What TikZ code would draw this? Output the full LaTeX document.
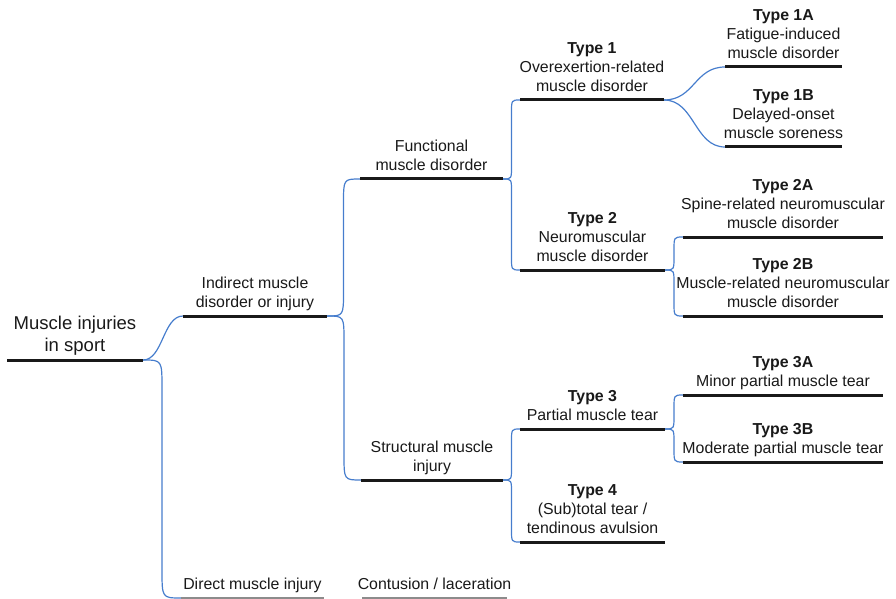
\documentclass[tikz,border=0pt]{standalone}
\usepackage{fontspec}
\setmainfont{Liberation Sans}
\usetikzlibrary{calc}
\definecolor{linkblue}{RGB}{70,125,205}
\begin{document}
\begin{tikzpicture}[x=0.75pt,y=-0.75pt,
  ul/.style={inner sep=0pt, outer sep=0pt, minimum height=0pt, minimum width={#1*0.75pt}},
  txt/.style={anchor=south, inner sep=0pt, align=center, text=black!90,
    font=\fontsize{11.9pt}{14.25pt}\selectfont, execute at end node=\strut},
  big/.style={font=\fontsize{13.9pt}{16.5pt}\selectfont},
  uline/.style={line width=2.25pt, draw=black!90},
  faint/.style={line width=1.1pt, draw=black!45},
  link/.style={draw=linkblue, line width=0.9pt},
  scurve/.style={to path={let \p1=(\tikztostart), \p2=(\tikztotarget), \n1={0.5*(\x2-\x1)} in
     .. controls (\x1+\n1,\y1) and (\x1+\n1,\y2) .. (\tikztotarget)}},
  elbow/.style={to path={let \p1=(\tikztostart), \p2=(\tikztotarget),
     \n1={0.5*(\x2-\x1)},
     \n2={min(1.5*\n1, abs(\y2-\y1)/2)*(\y2-\y1)/abs(\y2-\y1)} in
     .. controls (\x1+\n1,\y1) .. (\x1+\n1,\y1+\n2) -- (\x1+\n1,\y2-\n2)
     .. controls (\x1+\n1,\y2) .. (\tikztotarget)}}
]
\useasboundingbox (0,0) rectangle (896,599);

% underline nodes
\node[ul=136] (root)   at (75,360) {};
\node[ul=144] (ind)    at (255,316) {};
\node[ul=143] (direct) at (252.5,598) {};
\node[ul=145] (cont)   at (434.5,598) {};
\node[ul=143] (func)   at (431.5,179) {};
\node[ul=142] (struct) at (432,480) {};
\node[ul=144] (t1)     at (592,100) {};
\node[ul=145] (t2)     at (592.5,270) {};
\node[ul=145] (t3)     at (592.5,429) {};
\node[ul=145] (t4)     at (592.5,542) {};
\node[ul=117] (t1a)    at (783.5,67) {};
\node[ul=117] (t1b)    at (783.5,147) {};
\node[ul=200] (t2a)    at (783,237) {};
\node[ul=200] (t2b)    at (783,316) {};
\node[ul=200] (t3a)    at (783,395) {};
\node[ul=200] (t3b)    at (783,462) {};

% connectors
\draw[link] (root.east) to[scurve] (ind.west);
\draw[link] (root.east) to[elbow] (direct.west);
\draw[link] (ind.east) to[elbow] (func.west);
\draw[link] (ind.east) to[elbow] (struct.west);
\draw[link] (func.east) to[elbow] (t1.west);
\draw[link] (func.east) to[elbow] (t2.west);
\draw[link] (struct.east) to[elbow] (t3.west);
\draw[link] (struct.east) to[elbow] (t4.west);
\draw[link] (t1.east) to[scurve] (t1a.west);
\draw[link] (t1.east) to[scurve] (t1b.west);
\draw[link] (t2.east) to[elbow] (t2a.west);
\draw[link] (t2.east) to[elbow] (t2b.west);
\draw[link] (t3.east) to[elbow] (t3a.west);
\draw[link] (t3.east) to[elbow] (t3b.west);

% underlines
\foreach \n in {root,ind,func,struct,t1,t2,t3,t4,t1a,t1b,t2a,t2b,t3a,t3b}
  \draw[uline] (\n.west) -- (\n.east);
\draw[faint] (direct.west) -- (direct.east);
\draw[faint] (cont.west) -- (cont.east);

% texts
\node[txt,big] (root-t) at ([yshift=1.05pt]root.north) {Muscle injuries\\in sport};
\node[txt] (ind-t) at ([yshift=1.7pt]ind.north) {Indirect muscle\\disorder or injury};
\node[txt] (direct-t) at ([yshift=1.7pt]direct.north) {Direct muscle injury};
\node[txt] (cont-t) at ([yshift=1.7pt]cont.north) {Contusion / laceration};
\node[txt] (func-t) at ([yshift=1.7pt]func.north) {Functional\\muscle disorder};
\node[txt] (struct-t) at ([yshift=1.7pt]struct.north) {Structural muscle\\injury};
\node[txt] (t1-t) at ([yshift=1.7pt]t1.north) {\textbf{Type 1}\\Overexertion-related\\muscle disorder};
\node[txt] (t2-t) at ([yshift=1.7pt]t2.north) {\textbf{Type 2}\\Neuromuscular\\muscle disorder};
\node[txt] (t3-t) at ([yshift=1.7pt]t3.north) {\textbf{Type 3}\\Partial muscle tear};
\node[txt] (t4-t) at ([yshift=1.7pt]t4.north) {\textbf{Type 4}\\(Sub)total tear /\\tendinous avulsion};
\node[txt] (t1a-t) at ([yshift=1.7pt]t1a.north) {\textbf{Type 1A}\\Fatigue-induced\\muscle disorder};
\node[txt] (t1b-t) at ([yshift=1.7pt]t1b.north) {\textbf{Type 1B}\\Delayed-onset\\muscle soreness};
\node[txt] (t2a-t) at ([yshift=1.7pt]t2a.north) {\textbf{Type 2A}\\Spine-related neuromuscular\\muscle disorder};
\node[txt] (t2b-t) at ([yshift=1.7pt]t2b.north) {\textbf{Type 2B}\\Muscle-related neuromuscular\\muscle disorder};
\node[txt] (t3a-t) at ([yshift=1.7pt]t3a.north) {\textbf{Type 3A}\\Minor partial muscle tear};
\node[txt] (t3b-t) at ([yshift=1.7pt]t3b.north) {\textbf{Type 3B}\\Moderate partial muscle tear};
\end{tikzpicture}
\end{document}
